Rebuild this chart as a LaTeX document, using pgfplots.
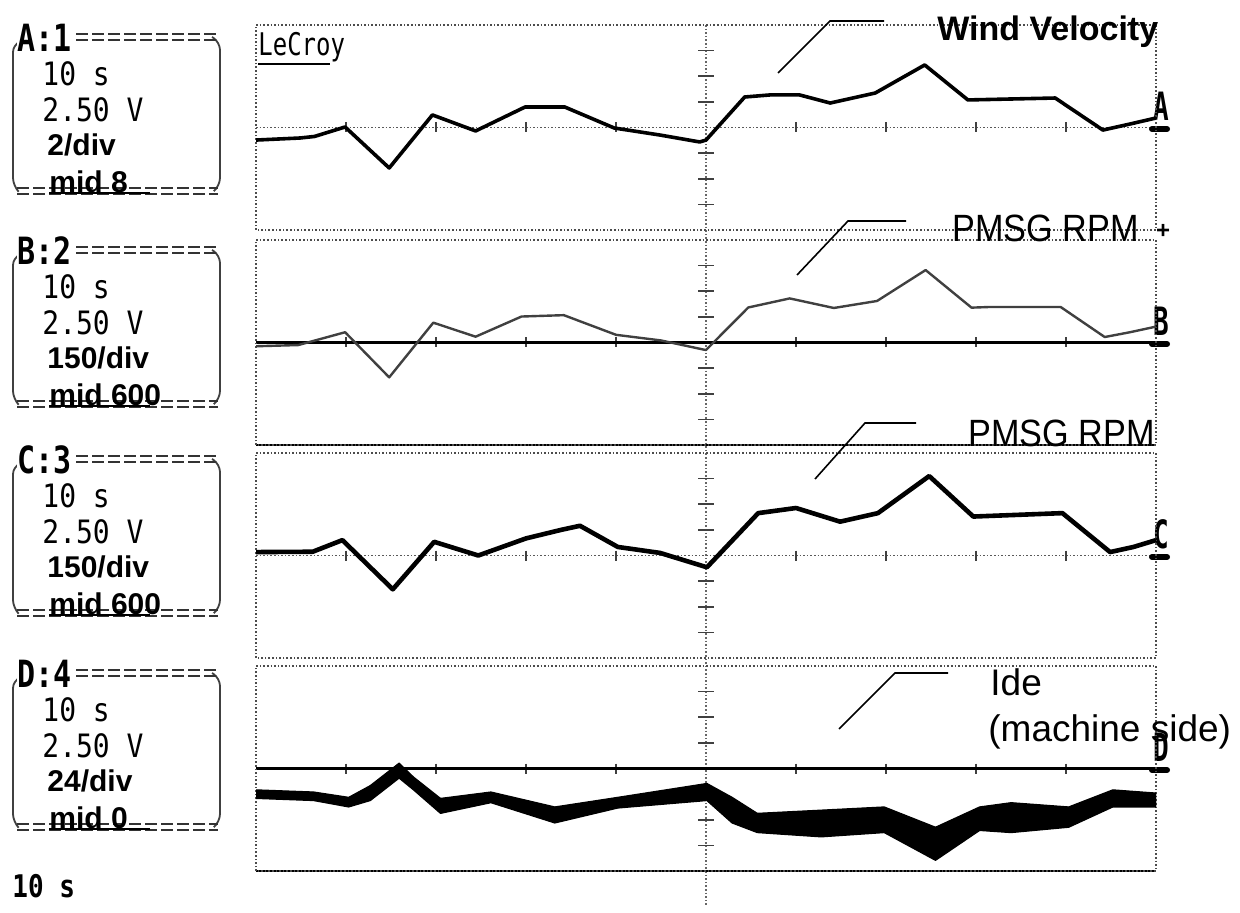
\documentclass[border=0pt]{standalone}
\usepackage{pgfplots}
\pgfplotsset{compat=1.18}
\usepackage{fontspec}
\setmainfont{Liberation Sans}
\newfontfamily\mono{DejaVu Sans Mono}

\pgfplotsset{panel/.style={scale only axis, width=450pt, height=102.5pt,
  xmin=0, xmax=100, anchor=north west, ticks=none,
  axis line style={black!70, densely dotted, line width=0.8pt}}}

\newcommand\chbox[4]{%
\begin{scope}[shift={(0,#1)}]
  \draw[black!75, line width=0.9pt, rounded corners=4] (22,41) -- (13,44) -- (13,186) -- (18,191);
  \draw[black!75, line width=0.9pt, rounded corners=4] (212,37) -- (220,42) -- (220,186) -- (214,191);
  \draw[black!80, line width=1.1pt, dash pattern=on 6pt off 2pt] (76,34) -- (216,34);
  \draw[black!80, line width=1.1pt, dash pattern=on 6pt off 2pt] (76,40) -- (216,40);
  \draw[black!80, line width=1.1pt, dash pattern=on 6pt off 2pt] (17,188) -- (218,188);
  \draw[black!80, line width=1.1pt, dash pattern=on 6pt off 2pt] (17,194) -- (218,194);
  \node[anchor=west, inner sep=0, fill=white] at (17,38) {\scalebox{1}[1.25]{\mono\bfseries\fontsize{15}{15}\selectfont #2}};
  \node[anchor=west, inner sep=0] at (42,74) {\scalebox{1}[1.15]{\mono\fontsize{14}{14}\selectfont 10 s}};
  \node[anchor=west, inner sep=0] at (42,110) {\scalebox{1}[1.15]{\mono\fontsize{14}{14}\selectfont 2.50 V}};
  \node[anchor=west, inner sep=0] at (47,145) {\fontsize{15}{15}\selectfont\bfseries #3};
  \node[anchor=west, inner sep=0] at (49,182) {\fontsize{15}{15}\selectfont\bfseries #4};
  \draw[black, line width=1.2pt] (49,193) -- (150,193);
\end{scope}}

\newcommand\decor[2]{% top, letter
  \draw[black!65, densely dotted, line width=0.8pt] (256,#1+102.5) -- (1156,#1+102.5);
  \foreach \i in {1,2,3,4,6,7,8,9} {\draw[black!75, line width=0.7pt] (256+90*\i,#1+97.5) -- (256+90*\i,#1+107.5);}
  \foreach \j in {1,2,3,5,6,7} {\draw[black!75, line width=0.8pt] (698,#1+25.625*\j) -- (714,#1+25.625*\j);}
  \draw[black, line width=3pt, line cap=round] (1152,#1+104) -- (1167,#1+104);
  \node[inner sep=0] at (1161,#1+81) {\scalebox{1}[1.5]{\mono\bfseries\fontsize{13}{13}\selectfont #2}};
}

\begin{document}
\begin{tikzpicture}[x=0.5pt,y=-0.5pt]
\path[use as bounding box] (0,0) rectangle (1240,913);
\coordinate (P1) at (256,25);
\coordinate (P2) at (256,240);
\coordinate (P3) at (256,453);
\coordinate (P4) at (256,666);

% decorations
\draw[black!60, densely dotted, line width=0.8pt] (706,25) -- (706,905);
\decor{25}{A}
\decor{240}{B}
\decor{453}{C}
\decor{666}{D}
\draw[black, line width=1.1pt] (256,342.5) -- (1156,342.5);
\draw[black, line width=1.4pt] (256,768.5) -- (1156,768.5);
\draw[black, line width=0.9pt] (256,445) -- (1156,445);
\draw[black, line width=0.9pt] (256,871) -- (1156,871);

% left boxes
\chbox{0}{A:1}{2/div}{mid 8}
\chbox{213}{B:2}{150/div}{mid 600}
\chbox{422}{C:3}{150/div}{mid 600}
\chbox{636}{D:4}{24/div}{mid 0}
\node[anchor=west, inner sep=0] at (12,886) {\scalebox{1}[1.2]{\mono\bfseries\fontsize{13}{13}\selectfont 10 s}};

% logo
\node[anchor=west, inner sep=0] at (258,47) {\scalebox{1}[1.3]{\mono\fontsize{12}{12}\selectfont LeCroy}};
\draw[black, line width=1pt] (258,64) -- (330,64);

% Panel A: wind velocity
\begin{axis}[panel, at={(P1)}, ymin=0, ymax=16]
\addplot[black, line width=1.8pt, line join=round] coordinates {
(0,7.02)(4.9,7.18)(6.5,7.3)(9.9,8.04)(14.8,4.84)(19.6,8.98)(24.4,7.73)(29.9,9.6)(34.3,9.6)(39.8,7.96)(44.9,7.41)(49.3,6.87)(50,7.02)(54.3,10.38)(57.1,10.54)(60.4,10.54)(63.8,9.91)(68.8,10.69)(74.3,12.88)(79.1,10.15)(88.8,10.3)(94.1,7.8)(97.1,8.27)(100,8.74)};
\end{axis}

% Panel B: PMSG RPM
\begin{axis}[panel, at={(P2)}, ymin=0, ymax=1200]
\addplot[black!75, line width=1.2pt, line join=round] coordinates {
(0,578)(4.7,585)(9.9,660)(14.8,396)(19.7,716)(24.4,634)(29.5,752)(34.2,760)(40,645)(45,612)(49.6,560)(50,556)(54.7,805)(59.3,858)(64.2,802)(69,843)(74.4,1024)(79.5,804)(81.6,808)(89.4,808)(94.3,632)(97.1,660)(100,693)};
\end{axis}

% Panel C: PMSG RPM (measured)
\begin{axis}[panel, at={(P3)}, ymin=0, ymax=1200]
\addplot[black, line width=2.3pt, line join=round] coordinates {
(0,620)(6.3,622)(9.6,690)(15.2,402)(19.8,680)(24.7,600)(30,700)(33.9,750)(36,774)(40.2,650)(44.9,615)(50.1,531)(55.8,848)(60,878)(64.9,798)(69.1,848)(74.8,1065)(79.7,828)(89.6,848)(94.9,620)(97.5,650)(100,690)};
\end{axis}

% Panel D: Ide
\begin{axis}[panel, at={(P4)}, ymin=-96, ymax=96]
\addplot[fill=black, draw=black, line width=0.6pt, line join=round] coordinates {
(0,-20)(6.4,-22)(10.3,-27)(12.7,-16)(15.9,5)(17.5,-8)(20.5,-28)(26.1,-22)(33.2,-36)(40.2,-27)(50.1,-14)(52.9,-27)(55.7,-42)(62.8,-39)(69.8,-36)(75.5,-55)(80.4,-36)(83.9,-32)(90.3,-36)(95.2,-20)(100,-23)
(100,-36)(95.2,-36)(90.3,-55)(83.9,-60)(80.4,-58)(75.5,-86)(69.8,-60)(62.8,-64)(55.7,-60)(52.9,-51)(50.1,-30)(40.2,-37)(33.2,-51)(26.1,-32)(20.5,-42)(17.5,-20)(15.9,-9)(12.7,-30)(10.3,-36)(6.4,-30)(0,-28)} -- cycle;
\end{axis}

% annotations
\draw[black, line width=0.8pt] (778,73) -- (830,21) -- (884,21);
\node[anchor=base west, inner sep=0] at (937,41) {\fontsize{17}{17}\selectfont\bfseries Wind Velocity};
\draw[black, line width=0.8pt] (797,275) -- (848,221) -- (906,221);
\node[anchor=base west, inner sep=0] at (952,242) {\scalebox{0.9}[1]{\fontsize{19}{19}\selectfont PMSG RPM}};
\node[inner sep=0] at (1163,231) {\fontsize{12}{12}\selectfont\bfseries +};
\draw[black, line width=0.8pt] (815,479) -- (865,423) -- (916,423);
\node[anchor=base west, inner sep=0] at (968,447) {\scalebox{0.9}[1]{\fontsize{19}{19}\selectfont PMSG RPM}};
\draw[black, line width=0.8pt] (839,729) -- (895,673) -- (948,673);
\node[anchor=base west, inner sep=0] at (990,695) {\fontsize{18.5}{18.5}\selectfont Ide};
\node[anchor=base west, inner sep=0] at (988,741) {\fontsize{18.5}{18.5}\selectfont (machine side)};
\end{tikzpicture}
\end{document}
